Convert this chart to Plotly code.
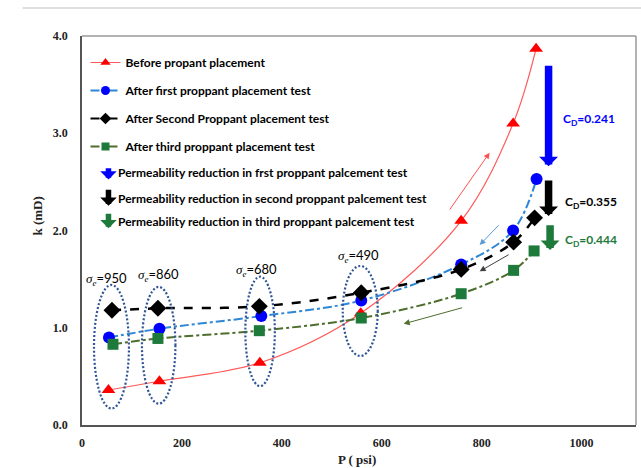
import plotly.graph_objects as go

# ---------------- data ----------------
P_before = [53, 155, 356, 558, 759, 863, 909]
k_before = [0.36, 0.45, 0.64, 1.15, 2.10, 3.10, 3.87]

P_first = [54, 155, 359, 559, 759, 863, 910]
k_first = [0.90, 0.99, 1.12, 1.28, 1.65, 2.00, 2.53]

P_second = [60, 152, 355, 559, 759, 864, 906]
k_second = [1.18, 1.20, 1.22, 1.36, 1.60, 1.88, 2.13]

P_third = [62, 152, 355, 559, 759, 864, 905]
k_third = [0.83, 0.89, 0.97, 1.10, 1.35, 1.59, 1.79]

names = ["Before propant placement",
         "After first proppant placement test",
         "After Second Proppant placement test",
         "After third proppant placement test"]

sigma_labels = ["950", "860", "680", "490"]
sigma_P = [50, 154, 350, 553]
sigma_k = [1.50, 1.54, 1.59, 1.74]

# ellipse groups: (P0, P1, k0, k1)
ellipses = [(24, 94, 0.17, 1.44), (120, 187, 0.22, 1.42),
            (327, 386, 0.40, 1.525), (522, 592, 0.71, 1.635)]

CD_values = ["0.241", "0.355", "0.444"]
CD_colors = ["#0000ff", "#000000", "#1e7a3a"]
CD_P = [959, 962, 963]
CD_k = [3.14, 2.29, 1.90]

# big reduction arrows: P, k_tail, k_tip
red_arrows = [(934, 3.71, 2.66), (934, 2.53, 2.15), (937, 2.07, 1.80)]

# thin direction arrows: tailP, tailk, headP, headk, color
dir_arrows = [(734, 2.20, 816, 2.80, "#ff5050"),
              (837, 2.07, 796, 1.85, "#5b9bd5"),
              (857, 1.76, 796, 1.58, "#404040"),
              (764, 1.21, 644, 1.04, "#4e6e2e")]

arrow_legend = ["Permeability reduction in frst proppant palcement test",
                "Permeability reduction in second proppant palcement test",
                "Permeability reduction in third proppant palcement test"]

# ---------------- layout geometry ----------------
W, H = 641, 468
L, R, T, B = 81.5, 636, 36, 425
XMAX = (R - L) / 0.5


def pxx(px):
    return (px - L) / (R - L)


def pxy(py):
    return (B - py) / (B - T)


fig = go.Figure()

LF = "Lato"
SF = "Liberation Serif"

styles = [
    dict(line=dict(color="#ff5a5a", width=1.2, shape="spline"),
         marker=dict(symbol="triangle-up", size=12, color="#ff0000"), lsize=9),
    dict(line=dict(color="#2e86d6", width=2, dash="dashdot", shape="spline"),
         marker=dict(symbol="circle", size=12, color="#0000ff"), lsize=9),
    dict(line=dict(color="#000000", width=2.5, dash="dash", shape="spline"),
         marker=dict(symbol="diamond", size=13, color="#000000"), lsize=9),
    dict(line=dict(color="#4e6e2e", width=2, dash="dashdot", shape="spline"),
         marker=dict(symbol="square", size=11, color="#1e7a3a"), lsize=8),
]
series = [(P_before, k_before), (P_first, k_first), (P_second, k_second), (P_third, k_third)]

for i, ((xs, ys), st, nm) in enumerate(zip(series, styles, names)):
    fig.add_trace(go.Scatter(x=xs, y=ys, name=nm, legendgroup=str(i), showlegend=False,
                             mode="lines+markers", line=st["line"], marker=st["marker"]))
for i, (st, nm) in enumerate(zip(styles, names)):
    lm = dict(st["marker"])
    lm["size"] = st["lsize"]
    ln = dict(st["line"])
    ln["width"] = min(ln["width"], 2)
    fig.add_trace(go.Scatter(x=[None], y=[None], name=nm, legendgroup=str(i), showlegend=True,
                             mode="lines+markers", line=ln, marker=lm))

shapes = []
for (p0, p1, k0, k1) in ellipses:
    shapes.append(dict(type="circle", xref="x", yref="y", x0=p0, x1=p1, y0=k0, y1=k1,
                       line=dict(color="#2f5597", width=2.2, dash="2px,2px")))
# frame top/right in light gray
shapes.append(dict(type="line", xref="paper", yref="paper", x0=0, x1=1, y0=1, y1=1,
                   line=dict(color="#999999", width=1.5)))
shapes.append(dict(type="line", xref="paper", yref="paper", x0=1, x1=1, y0=0, y1=1,
                   line=dict(color="#999999", width=1.5)))
# outer top line
shapes.append(dict(type="line", xref="paper", yref="paper", x0=pxx(22), x1=pxx(641), y0=pxy(8), y1=pxy(8),
                   line=dict(color="#d4d4d4", width=1.5)))

ann = []
for lab, p, k in zip(sigma_labels, sigma_P, sigma_k):
    ann.append(dict(x=p, y=k, xref="x", yref="y", showarrow=False, xanchor="center", yanchor="middle",
                    text="<span style='font-family:Liberation Serif'><i>σ<sub>e</sub></i></span>=" + lab,
                    font=dict(family=LF, size=13, color="#000")))

for v, c, p, k in zip(CD_values, CD_colors, CD_P, CD_k):
    ann.append(dict(x=p, y=k, xref="x", yref="y", showarrow=False, xanchor="left", yanchor="middle",
                    text="<b>C<sub>D</sub>=" + v + "</b>",
                    font=dict(family=LF, size=12, color=c)))

for (p, kt, kh), c in zip(red_arrows, CD_colors):
    ann.append(dict(x=p, y=kh, ax=p, ay=kt, xref="x", yref="y", axref="x", ayref="y",
                    text="", showarrow=True, arrowhead=1, arrowwidth=7.5, arrowsize=0.42,
                    arrowcolor=c, standoff=0))

for (tp, tk, hp, hk, c) in dir_arrows:
    ann.append(dict(x=hp, y=hk, ax=tp, ay=tk, xref="x", yref="y", axref="x", ayref="y",
                    text="", showarrow=True, arrowhead=2, arrowwidth=1, arrowsize=1.2,
                    arrowcolor=c, standoff=0))

# arrow legend entries
leg_icon_y = [(166.7, 179.5), (188.3, 205.7), (212.3, 228.3)]
leg_text_y = [172, 198, 221]
for (y0, y1), ty, c, txt in zip(leg_icon_y, leg_text_y, CD_colors, arrow_legend):
    ann.append(dict(x=pxx(108), y=pxy(y1), ax=0, ay=-(y1 - y0), xref="paper", yref="paper",
                    axref="pixel", ayref="pixel", text="", showarrow=True, arrowhead=1,
                    arrowwidth=5.5, arrowsize=0.5, arrowcolor=c, standoff=0))
    ann.append(dict(x=pxx(116), y=pxy(ty), xref="paper", yref="paper", showarrow=False,
                    xanchor="left", yanchor="middle", text="<b>" + txt + "</b>",
                    font=dict(family=LF, size=12, color="#000")))

# axis titles
ann.append(dict(x=pxx(357), y=pxy(459), xref="paper", yref="paper", showarrow=False,
                xanchor="center", yanchor="middle",
                text="<b>P ( psi)</b>", font=dict(family=SF, size=13, color="#222")))
ann.append(dict(x=pxx(36), y=pxy(216), xref="paper", yref="paper", showarrow=False, textangle=-90,
                xanchor="center", yanchor="middle",
                text="<b>k (mD)</b>", font=dict(family=SF, size=13, color="#222")))

fig.update_layout(
    width=W, height=H,
    margin=dict(l=L, r=W - R, t=T, b=H - B, pad=0),
    paper_bgcolor="white", plot_bgcolor="white",
    shapes=shapes, annotations=ann,
    legend=dict(x=pxx(85), y=pxy(48), xanchor="left", yanchor="top",
                bgcolor="rgba(0,0,0,0)", tracegroupgap=9,
                font=dict(family=LF, size=12, color="#000", weight="bold")),
    xaxis=dict(range=[0, XMAX], tickvals=[0, 200, 400, 600, 800, 1000], showgrid=False,
               zeroline=False, showline=True, linecolor="#555555", linewidth=1.5,
               ticks="", ticklabelstandoff=6,
               tickfont=dict(family=SF, size=12, color="#222", weight="bold")),
    yaxis=dict(range=[0, 4], tickvals=[0, 1, 2, 3, 4], tickformat=".1f", showgrid=False,
               zeroline=False, showline=True, linecolor="#555555", linewidth=1.5,
               ticks="", ticklabelstandoff=10,
               tickfont=dict(family=SF, size=12, color="#222", weight="bold")),
)

fig.write_html("out.html")
